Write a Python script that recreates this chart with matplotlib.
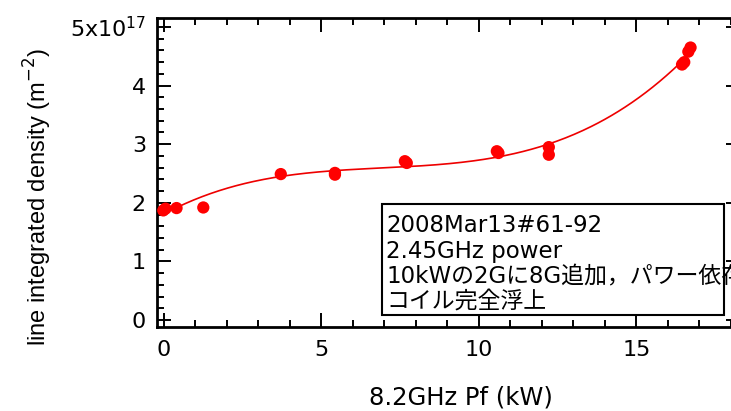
import matplotlib
matplotlib.use('Agg')
import matplotlib.pyplot as plt
import numpy as np
from matplotlib.patches import Rectangle
from matplotlib.ticker import MultipleLocator, FuncFormatter

plt.rcParams['font.family'] = ['DejaVu Sans', 'Noto Sans CJK JP']
plt.rcParams['mathtext.fontset'] = 'dejavusans'

# 8.2GHz additional power (kW) and line integrated density (x1e17 m^-2)
power_kw = [-0.02, 0.05, 0.40, 1.25, 3.71, 5.43, 5.43, 7.65, 7.71,
            10.57, 10.62, 12.22, 12.22, 16.45, 16.52, 16.65, 16.72]
density_1e17 = [1.87, 1.90, 1.91, 1.92, 2.49, 2.51, 2.48, 2.71, 2.68,
                2.88, 2.85, 2.95, 2.82, 4.36, 4.40, 4.58, 4.65]

info_lines = ['2008Mar13#61-92',
              '2.45GHz power',
              '10kWの2Gに8G追加，パワー依存性',
              'コイル完全浮上']

W, H = 731, 411
fig = plt.figure(figsize=(W / 100, H / 100), dpi=100)
fig.patch.set_facecolor('white')

# axes box in pixels: left 157, right 740 (runs past the edge), top 18, bottom 327
ax = fig.add_axes([157 / W, 1 - 327 / H, (740 - 157) / W, (327 - 18) / H])

x = np.array(power_kw)
y = np.array(density_1e17)

# polynomial fit through the measurements
coef = np.polyfit(x, y, 3)
xf = np.linspace(0.4, 16.6, 300)
ax.plot(xf, np.polyval(coef, xf), color='#ee0000', lw=1.2, zorder=2)
ax.scatter(x, y, s=78, color='#ff0000', edgecolors='none', zorder=3)

ax.set_xlim(-0.22, 18.29)
ax.set_ylim(-0.12, 5.154)

ax.xaxis.set_major_locator(MultipleLocator(5))
ax.xaxis.set_minor_locator(MultipleLocator(1))
ax.yaxis.set_major_locator(MultipleLocator(1))
ax.yaxis.set_minor_locator(MultipleLocator(0.2))


def ylab(v, pos):
    n = int(round(v))
    if n == 5:
        return r'5x10$^{17}$'
    return str(n)


ax.yaxis.set_major_formatter(FuncFormatter(ylab))

ax.tick_params(which='both', direction='in', top=True, right=True,
               width=1.4, colors='black')
ax.tick_params(which='major', length=10, labelsize=16)
ax.tick_params(which='minor', length=5)
ax.tick_params(axis='x', which='major', pad=9)
ax.tick_params(axis='y', which='major', pad=8)

for side in ['left', 'bottom', 'top', 'right']:
    ax.spines[side].set_linewidth(2)

ax.set_xlabel('8.2GHz Pf (kW)', fontsize=17.5)
ax.xaxis.set_label_coords(0.521, -0.19)

# vertical label placed by its centre
fig.text(38 / W, 1 - 197 / H, 'line integrated density (m$^{-2}$)',
         rotation=90, ha='center', va='center', fontsize=17,
         family=['Liberation Sans', 'DejaVu Sans'])

# annotation box, text clipped at the frame
box = Rectangle((382 / W, 1 - 314.5 / H), (723.5 - 382) / W, (314.5 - 204) / H,
                transform=fig.transFigure, facecolor='white', edgecolor='black',
                linewidth=1.5, zorder=4, clip_on=False)
ax.add_patch(box)

baselines = [232, 258, 283, 308]
for line, by in zip(info_lines, baselines):
    t = ax.text(386 / W, 1 - by / H, line, transform=fig.transFigure,
                fontsize=16.5, va='baseline', ha='left', zorder=5)
    t.set_clip_path(box)

fig.savefig('out.png', dpi=100, facecolor='white')
